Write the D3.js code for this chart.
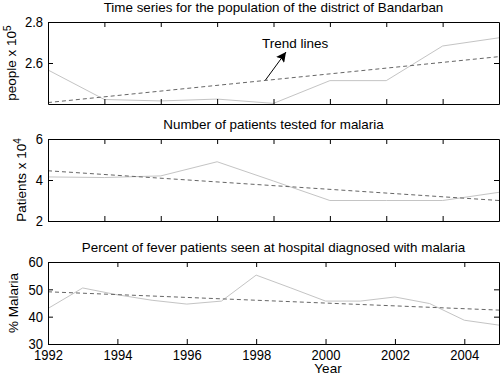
<!DOCTYPE html>
<html>
<head>
<meta charset="utf-8">
<script src="https://cdn.jsdelivr.net/npm/d3@7"></script>
<style>
  body { margin: 0; background: #fff; }
  svg { display: block; font-family: "Liberation Sans", Arial, sans-serif; }
</style>
</head>
<body>
<div class="chart"></div>
<script>
// population panel (plotted against sample index)
var popIndex = [1, 2, 3, 4, 5, 6, 7, 8, 9];
var popValues = [2.566, 2.422, 2.415, 2.424, 2.403, 2.514, 2.514, 2.683, 2.723];
var popTrend = [2.407, 2.631];
var popTicks = [2.6, 2.8];

// patients tested panel
var testedValues = [4.15, 4.12, 4.2, 4.89, 3.95, 3.0, 3.0, 3.0, 3.4];
var testedTrend = [4.45, 3.0];
var testedTicks = [2, 4, 6];

// percent malaria panel
var years = [1992, 1993, 1994, 1995, 1996, 1997, 1998, 1999, 2000, 2001, 2002, 2003, 2004, 2005];
var malariaValues = [43.0, 50.5, 48.0, 46.0, 44.6, 45.7, 55.2, 50.5, 45.7, 45.7, 47.2, 44.8, 38.7, 36.9];
var malariaTrend = [49.1, 42.4];
var malariaTicks = [30, 40, 50, 60];
var yearTicks = [1992, 1994, 1996, 1998, 2000, 2002, 2004];

var width = 500, height = 378;
var left = 48, right = 499;

var svg = d3.select(".chart").append("svg")
  .attr("width", width)
  .attr("height", height);

var panels = [
  { top: 22, bottom: 104, x: popIndex, y: popValues, trend: popTrend, domain: [2.4, 2.8], ticks: popTicks,
    xDomain: [1, 9], xTicks: popIndex.slice(1, 8), xLabels: false,
    title: "Time series for the population of the district of Bandarban",
    ylabel: "people x 10", sup: "5", ylabelX: 11 },
  { top: 139, bottom: 221, x: popIndex, y: testedValues, trend: testedTrend, domain: [2, 6], ticks: testedTicks,
    xDomain: [1, 9], xTicks: popIndex.slice(1, 8), xLabels: false,
    title: "Number of patients tested for malaria",
    ylabel: "Patients x 10", sup: "4", ylabelX: 21 },
  { top: 262, bottom: 344, x: years, y: malariaValues, trend: malariaTrend, domain: [30, 60], ticks: malariaTicks,
    xDomain: [1992, 2005], xTicks: yearTicks, xLabels: true,
    title: "Percent of fever patients seen at hospital diagnosed with malaria",
    ylabel: "% Malaria", sup: null, ylabelX: 13 }
];

// tick labels in the reference are narrow and tall
function squeeze(sel) {
  sel.selectAll(".tick text")
    .style("font-size", "15.5px")
    .attr("fill", "#000")
    .attr("lengthAdjust", "spacingAndGlyphs")
    .attr("textLength", function () { return this.getComputedTextLength() * 0.84; });
}

panels.forEach(function (p) {
  var x = d3.scaleLinear().domain(p.xDomain).range([left, right]);
  var y = d3.scaleLinear().domain(p.domain).range([p.bottom, p.top]);
  var g = svg.append("g");

  // data line
  var line = d3.line().x(function (d, i) { return x(p.x[i]); }).y(function (d) { return y(d); });
  g.append("path")
    .datum(p.y)
    .attr("fill", "none")
    .attr("stroke", "#c4c4c4")
    .attr("stroke-width", 1)
    .attr("d", line);

  // trend line
  var ends = [p.x[0], p.x[p.x.length - 1]];
  g.append("path")
    .datum(p.trend)
    .attr("fill", "none")
    .attr("stroke", "#666")
    .attr("stroke-width", 1)
    .attr("stroke-dasharray", "4,3")
    .attr("d", d3.line().x(function (d, i) { return x(ends[i]); }).y(function (d) { return y(d); }));

  // axes, ticks pointing inward on all four sides
  var bottomAxis = d3.axisBottom(x).tickValues(p.xTicks).tickSizeInner(-5).tickSizeOuter(0).tickPadding(5)
    .tickFormat(p.xLabels ? d3.format("d") : "");
  var topAxis = d3.axisTop(x).tickValues(p.xTicks).tickSizeInner(-5).tickSizeOuter(0).tickFormat("");
  var leftAxis = d3.axisLeft(y).tickValues(p.ticks).tickSizeInner(-5).tickSizeOuter(0).tickPadding(5)
    .tickFormat(function (d) { return d3.format(p.domain[1] < 3 ? ".1f" : "d")(d); });
  var rightAxis = d3.axisRight(y).tickValues(p.ticks).tickSizeInner(-5).tickSizeOuter(0).tickFormat("");

  var gb = g.append("g").attr("transform", "translate(0," + p.bottom + ")").call(bottomAxis);
  if (p.xLabels) gb.call(squeeze);
  g.append("g").attr("transform", "translate(0," + p.top + ")").call(topAxis);
  var gl = g.append("g").attr("transform", "translate(" + left + ",0)").call(leftAxis);
  gl.call(squeeze);
  g.append("g").attr("transform", "translate(" + right + ",0)").call(rightAxis);

  g.selectAll(".domain").attr("stroke", "#000");
  g.selectAll(".tick line").attr("stroke", "#000");

  // title
  g.append("text")
    .attr("x", (left + right) / 2)
    .attr("y", p.top - 10)
    .attr("text-anchor", "middle")
    .style("font-size", "13.4px")
    .text(p.title);

  // y label
  var yl = g.append("text")
    .attr("transform", "translate(" + p.ylabelX + "," + ((p.top + p.bottom) / 2) + ") rotate(-90)")
    .attr("text-anchor", "middle")
    .attr("dy", "0.35em")
    .style("font-size", "13.5px")
    .text(p.ylabel);
  if (p.sup) {
    yl.append("tspan").attr("dy", "-0.45em").style("font-size", "10px").text(p.sup);
  }
});

// x label
svg.append("text")
  .attr("x", 328)
  .attr("y", 373)
  .attr("text-anchor", "middle")
  .style("font-size", "13.5px")
  .text("Year");

// annotation
svg.append("defs").append("marker")
  .attr("id", "head")
  .attr("viewBox", "0 0 10 10")
  .attr("refX", 10)
  .attr("refY", 5)
  .attr("markerWidth", 10)
  .attr("markerHeight", 10)
  .attr("markerUnits", "userSpaceOnUse")
  .attr("orient", "auto")
  .append("path")
  .attr("d", "M0,0 L10,5 L0,10 L2,5 Z")
  .attr("fill", "#000");

svg.append("line")
  .attr("x1", 265.5).attr("y1", 80)
  .attr("x2", 286).attr("y2", 52)
  .attr("stroke", "#000")
  .attr("stroke-width", 1)
  .attr("marker-end", "url(#head)");

svg.append("text")
  .attr("x", 262)
  .attr("y", 48)
  .style("font-size", "13.5px")
  .text("Trend lines");
</script>
</body>
</html>
